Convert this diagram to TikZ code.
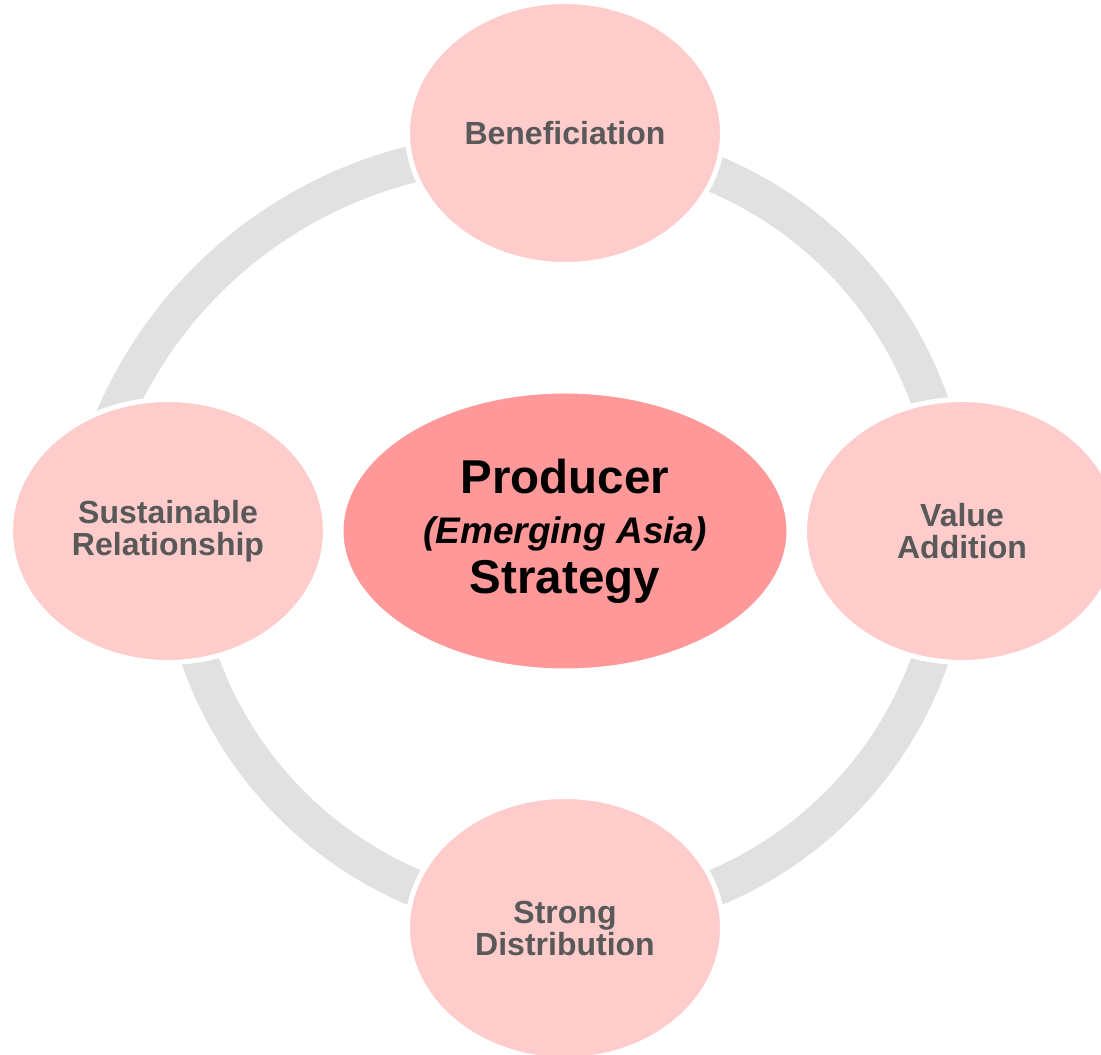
\documentclass[tikz,border=0pt]{standalone}
\usepackage{fontspec}
\setmainfont{Liberation Sans}
\usetikzlibrary{shapes.geometric}
\definecolor{petalpink}{HTML}{FFCCCC}
\definecolor{corepink}{HTML}{FF9999}
\definecolor{ringgray}{HTML}{E1E1E1}
\definecolor{labelgray}{HTML}{595959}

\begin{document}
\begin{tikzpicture}[x=1pt,y=1pt,
  ring/.style={draw=ringgray,line width=37pt},
  petal/.style={ellipse,fill=petalpink,draw=white,line width=5pt,minimum width=315pt,minimum height=263pt,
    inner sep=0pt,align=center,text=labelgray,font=\fontsize{32}{32}\selectfont\bfseries},
  core/.style={ellipse,fill=corepink,draw=white,line width=5pt,minimum width=448pt,minimum height=280pt,
    inner sep=0pt,align=center,font=\fontsize{47.5}{50}\selectfont\bfseries}]

  \useasboundingbox (0,0) rectangle (1101,1055);

    \coordinate (hub) at (565,524);
    \coordinate (bend) at (519,463);
  \draw[ring] ([shift={(90:387)}]hub) arc[start angle=90,end angle=-180,radius=387];
  \draw[ring] ([shift={(165:441)}]bend) arc[start angle=165,end angle=95,radius=441];

  \node[petal] (1) at (565,922) {Beneficiation};
  \node[petal] (2) at (962,524) {Value\\Addition};
  \node[petal] (3) at (565,127) {Strong\\Distribution};
  \node[petal] (4) at (168,524) {Sustainable\\Relationship};

  \node[core] (0) at (565,524) {Producer\\{\fontsize{37}{50}\selectfont\itshape (Emerging Asia)}\\Strategy};

\end{tikzpicture}
\end{document}
